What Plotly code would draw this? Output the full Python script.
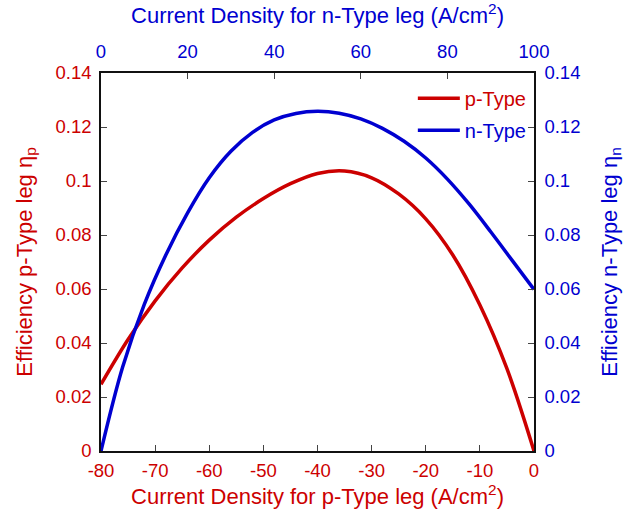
import plotly.graph_objects as go

# p-Type leg: current density (A/cm^2) vs efficiency
p_current = [-80, -75, -70, -65, -60, -55, -50, -45, -40, -35, -30, -25, -20, -15, -10, -5, 0]
p_eff = [0.0247, 0.0413, 0.0556, 0.0678, 0.0781, 0.0866, 0.0935, 0.0990, 0.1028, 0.1037,
         0.1012, 0.0952, 0.0860, 0.0726, 0.0541, 0.0305, 0.0]

# n-Type leg: current density (A/cm^2) vs efficiency
n_current = [0, 5, 10, 15, 20, 25, 30, 35, 40, 45, 50, 55, 60, 65, 70, 75, 80, 85, 90, 95, 100]
n_eff = [0.0, 0.0311, 0.0543, 0.0727, 0.0882, 0.1012, 0.1110, 0.1180, 0.1226, 0.1250, 0.1258,
         0.1251, 0.1230, 0.1195, 0.1147, 0.1085, 0.1007, 0.0915, 0.0812, 0.0705, 0.0598]

p_ticks = [-80, -70, -60, -50, -40, -30, -20, -10, 0]
p_ticktext = ["-80", "-70", "-60", "-50", "-40", "-30", "-20", "-10", "0"]
n_ticks = [0, 20, 40, 60, 80, 100]
eff_ticks = [0, 0.02, 0.04, 0.06, 0.08, 0.1, 0.12, 0.14]
eff_ticktext = ["0", "0.02", "0.04", "0.06", "0.08", "0.1", "0.12", "0.14"]

RED = "#CC0000"
BLUE = "#0000D0"
FONT = "Liberation Sans, Arial, sans-serif"
TICK_SIZE = 18.5
TITLE_SIZE = 22

fig = go.Figure()
fig.add_trace(go.Scatter(x=p_current, y=p_eff, mode="lines", line=dict(color=RED, width=3.5, shape="spline"),
                         name=f'<span style="color:{RED}">p-Type</span>', xaxis="x", yaxis="y",
                         legendgroup="p"))
fig.add_trace(go.Scatter(x=n_current, y=n_eff, mode="lines", line=dict(color=BLUE, width=3.5, shape="spline"),
                         name=f'<span style="color:{BLUE}">n-Type</span>', xaxis="x2", yaxis="y2",
                         legendgroup="n"))

axis_common = dict(showgrid=False, zeroline=False, showline=True, linecolor="#111", linewidth=1.5,
                   ticks="inside", ticklen=6, tickwidth=1, tickcolor="#444", automargin=False)

fig.update_layout(
    width=638, height=518,
    margin=dict(l=101, r=104, t=73, b=67),
    paper_bgcolor="white", plot_bgcolor="white",
    font=dict(family=FONT, size=TICK_SIZE),
    xaxis=dict(range=[-80, 0], tickvals=p_ticks, ticktext=p_ticktext,
               tickfont=dict(color=RED, size=TICK_SIZE), ticklabelstandoff=2,
               title=dict(text="Current Density for p-Type leg (A/cm<sup>2</sup>)",
                          font=dict(color=RED, size=TITLE_SIZE), standoff=9),
               **axis_common),
    xaxis2=dict(range=[0, 100], tickvals=n_ticks, overlaying="x", side="top", anchor="y2",
                tickfont=dict(color=BLUE, size=TICK_SIZE), ticklabelstandoff=6,
                title=dict(text="Current Density for n-Type leg (A/cm<sup>2</sup>)",
                           font=dict(color=BLUE, size=TITLE_SIZE), standoff=16),
                **axis_common),
    yaxis=dict(range=[0, 0.14], tickvals=eff_ticks, ticktext=eff_ticktext,
               tickfont=dict(color=RED, size=TICK_SIZE), ticklabelstandoff=4,
               title=dict(text="Efficiency p-Type leg η<sub>p</sub>",
                          font=dict(color=RED, size=TITLE_SIZE), standoff=17),
               **axis_common),
    yaxis2=dict(range=[0, 0.14], tickvals=eff_ticks, ticktext=eff_ticktext, overlaying="y", side="right",
                anchor="x2",
                tickfont=dict(color=BLUE, size=TICK_SIZE), ticklabelstandoff=5,
                title=dict(text="Efficiency n-Type leg η<sub>n</sub>",
                           font=dict(color=BLUE, size=TITLE_SIZE), standoff=22),
                **axis_common),
    legend=dict(x=0.995, y=0.985, xanchor="right", yanchor="top", bgcolor="rgba(0,0,0,0)",
                font=dict(size=20, family=FONT), traceorder="grouped", tracegroupgap=3,
                itemwidth=42),
    showlegend=True,
)

fig.write_html("out.html")
